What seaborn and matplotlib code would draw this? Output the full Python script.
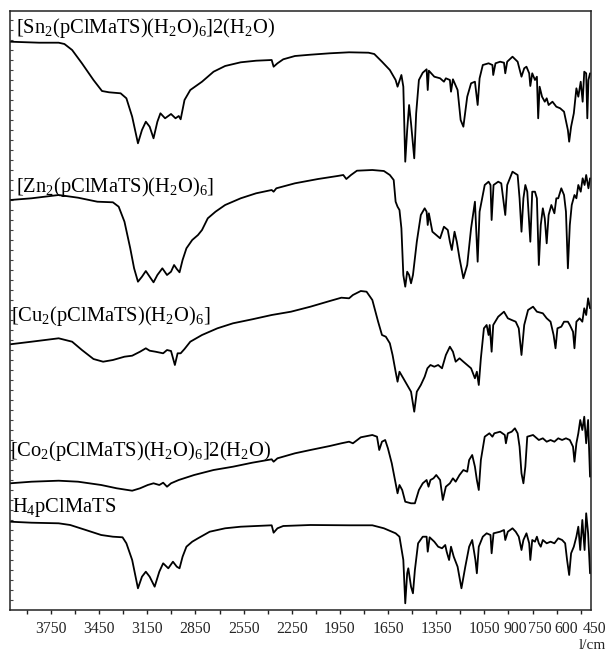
import numpy as np
import pandas as pd
import matplotlib
matplotlib.use("Agg")
import matplotlib.pyplot as plt
import matplotlib.transforms as mtransforms
import seaborn as sns

# ---------------- data (wavenumber, offset transmittance) ----------------
sn_wn = [4004, 3823, 3702, 3666, 3618, 3557, 3485, 3432, 3388, 3316, 3280, 3244, 3208, 3183, 3159, 3135,
         3111, 3087, 3068, 3039, 3002, 2974, 2954, 2942, 2918, 2882, 2809, 2737, 2665, 2568, 2472, 2375,
         2363, 2339, 2303, 2230, 2134, 2013, 1893, 1772, 1736, 1688, 1639, 1603, 1591, 1567, 1555, 1543,
         1531, 1519, 1507, 1487, 1475, 1458, 1434, 1410, 1403, 1396, 1362, 1326, 1302, 1290, 1265, 1258,
         1246, 1217, 1198, 1181, 1157, 1133, 1109, 1092, 1080, 1060, 1024, 1000, 995, 981, 952, 928, 920,
         908, 875, 843, 819, 802, 788, 771, 764, 752, 735, 723, 715, 706, 691, 674, 662, 650, 626, 602,
         578, 554, 530, 522, 510, 493, 477, 465, 450, 438, 428, 416, 409, 402, 392]
sn_t = [568.3, 567.3, 567.3, 566, 560, 546.7, 530, 519, 517.7, 516.7, 511.7, 493.3, 466.7, 480, 488.3, 483.3,
        471.7, 488.3, 496.7, 491.7, 496, 491.7, 494, 490.7, 510, 520, 528.3, 538.3, 544, 547.7, 549.3, 550,
        543.3, 546.7, 550.7, 554, 555.3, 556.7, 557.7, 557.3, 556, 548.3, 540, 530, 523.3, 535, 523.3, 448.3,
        480, 505, 486.7, 451.7, 496.7, 530, 537.3, 540.7, 520, 539.3, 533.3, 531.7, 528.3, 531.7, 530, 518.3,
        530.7, 520, 490, 483.3, 513.3, 526.7, 528.3, 505, 531.7, 545, 546.7, 545, 535, 546.7, 548.3, 547.3, 536.7,
        548.3, 553.3, 548.3, 533.3, 541.7, 543.3, 536.7, 524, 536.7, 530, 533.3, 491.7, 523.3, 513.3, 508.3, 511.7, 505, 508.3, 503.3,
        501.7, 498.3, 480, 468.3, 483.3, 496.7, 521.7, 513.3, 528.3, 508.3, 538.3, 536.7, 491.7, 530, 536.7]

zn_wn = [4004, 3871, 3702, 3581, 3461, 3364, 3328, 3292, 3256, 3232, 3208, 3183, 3159, 3135, 3111, 3087,
         3056, 3027, 3002, 2983, 2966, 2949, 2930, 2906, 2870, 2834, 2809, 2773, 2725, 2665, 2568, 2472,
         2375, 2363, 2346, 2230, 2086, 1965, 1929, 1910, 1881, 1844, 1748, 1676, 1639, 1615, 1603, 1591,
         1579, 1567, 1555, 1543, 1531, 1519, 1507, 1495, 1471, 1446, 1422, 1410, 1403, 1396, 1374, 1350,
         1326, 1302, 1278, 1265, 1253, 1236, 1222, 1205, 1181, 1157, 1133, 1109, 1092, 1080, 1048, 1024,
         1012, 1005, 993, 964, 945, 928, 920, 908, 875, 843, 831, 819, 807, 795, 783, 764, 752, 735, 723,
         711, 699, 686, 674, 662, 650, 633, 614, 602, 590, 571, 554, 542, 530, 518, 506, 489, 477, 465,
         450, 438, 426, 416, 402, 392]
zn_t = [410, 411.7, 415, 412.3, 408.3, 407.7, 403.3, 388.3, 361.7, 341.7, 328.3, 333.3, 339, 333.3, 327.7, 335,
        341.7, 335, 338.3, 345, 341, 337.7, 350, 361.7, 370, 375, 380, 391.7, 398.3, 405, 411.7, 416.7,
        420, 418.3, 421.7, 426.7, 431, 434, 435, 431, 435, 439.3, 440, 439, 435, 430, 408.3, 403.3,
        400, 381.7, 335, 323.3, 338.3, 335, 326.7, 335, 368.3, 395, 401.7, 398.3, 385, 396.7, 378.3, 375,
        371.7, 383.3, 380, 368.3, 360, 378.3, 368.3, 351.7, 331.7, 345, 381.7, 408.3, 348.3, 398.3, 425, 428.3,
        425, 390, 425, 428.3, 426.7, 405, 395, 425, 438.3, 435, 411.7, 378.3, 411.7, 425, 418.3, 368.3, 418.3, 418.3, 411.7,
        345, 385, 401.7, 391.7, 366.7, 395, 405, 396.7, 411.7, 411.7, 421.7, 415, 398.3, 341.7, 385, 405, 415, 411.7, 425,
        418.3, 431.7, 425, 435, 421.7, 431.7]

cu_wn = [4004, 3871, 3702, 3618, 3557, 3485, 3425, 3364, 3292, 3244, 3195, 3159, 3135, 3099, 3051, 3027,
         3002, 2978, 2961, 2942, 2918, 2882, 2809, 2713, 2616, 2496, 2375, 2255, 2134, 2013, 1941, 1893,
         1869, 1820, 1784, 1748, 1712, 1688, 1664, 1639, 1622, 1603, 1591, 1579, 1555, 1531, 1507, 1487,
         1471, 1446, 1422, 1405, 1386, 1362, 1338, 1314, 1290, 1265, 1246, 1229, 1205, 1181, 1157, 1133,
         1109, 1097, 1085, 1072, 1053, 1036, 1024, 1017, 1005, 995, 964, 928, 904, 880, 855, 836, 819, 802,
         778, 747, 723, 686, 662, 638, 619, 607, 595, 571, 554, 530, 518, 498, 489, 477, 457, 440, 428,
         416, 404, 392]
cu_t = [265.7, 268.3, 271.7, 268.3, 260, 251, 248.3, 250, 253.3, 254.3, 258.3, 261.7, 259.3, 258.3, 256.7, 260,
        259, 245, 256.7, 256.7, 261, 268.3, 275, 281.7, 286.7, 290.7, 295, 298.3, 303.3, 309, 312.3, 311.7,
        315, 319, 318.3, 310, 288.3, 275, 273.3, 266.7, 255, 238.3, 228.3, 238.3, 231.7, 225, 218.3, 198.3,
        218.3, 225, 233.3, 241.7, 245, 243.3, 245, 241.7, 255, 263.3, 258.3, 248.3, 251.7, 248.3, 245, 241.7,
        231.7, 238.3, 225, 251.7, 281.7, 285, 275, 285, 258.3, 285, 293.3, 298.3, 291.7, 290, 288.3, 281.7, 255, 285,
        300, 303.3, 298.3, 296.7, 291.7, 288.3, 275, 261.7, 281.7, 283.3, 288.3, 288.3, 285, 278.3, 261.7, 288.3, 291.7, 288.3, 301.7,
        295, 311.7, 301.7]

co_wn = [4004, 3871, 3702, 3581, 3437, 3340, 3244, 3195, 3147, 3111, 3075, 3051, 3027, 3002, 2954, 2858,
         2737, 2616, 2496, 2375, 2363, 2339, 2230, 2134, 2013, 1941, 1893, 1869, 1820, 1748, 1719, 1705,
         1688, 1668, 1651, 1627, 1603, 1591, 1579, 1562, 1543, 1507, 1483, 1458, 1434, 1410, 1398, 1386,
         1367, 1350, 1326, 1309, 1290, 1265, 1246, 1229, 1205, 1181, 1157, 1145, 1126, 1109, 1097, 1085,
         1072, 1048, 1019, 1000, 988, 952, 923, 916, 904, 880, 860, 843, 831, 819, 807, 795, 783, 747, 711,
         686, 662, 638, 614, 590, 566, 542, 518, 498, 489, 477, 465, 453, 440, 428, 416, 404, 392]
co_t = [126.7, 128.3, 129.3, 128.3, 125, 121.7, 119.3, 121.7, 125, 126.7, 125, 127.3, 123.3, 126.7, 130, 135,
        140, 143.3, 147.3, 150.7, 148.3, 151.7, 156.7, 160, 164, 166.7, 168.3, 166.7, 172.7, 175, 173.3, 160,
        168.3, 170, 161.7, 146.7, 126.7, 116.7, 125, 120, 108.3, 106.7, 106.7, 120, 126.7, 130, 123.3, 130,
        131.7, 135, 130, 110, 123.3, 126.7, 131.7, 128.3, 135, 140, 138.3, 150, 155, 143.3, 130, 120,
        150, 173.3, 176.7, 173.3, 176.7, 178.3, 175, 166.7, 176.7, 178.3, 181.7, 176.7, 163.3, 136.7, 126.7, 143.3, 173.3, 175, 170,
        171.7, 168.3, 170, 168.3, 171.7, 170, 171.7, 170, 163.3, 148.3, 166.7, 176.7, 190, 180, 193.3, 166.7, 190, 133.3]

h4_wn = [4004, 3871, 3702, 3630, 3533, 3437, 3364, 3304, 3280, 3244, 3208, 3183, 3159, 3135, 3104, 3075,
         3051, 3019, 2990, 2966, 2949, 2930, 2906, 2870, 2834, 2761, 2665, 2568, 2472, 2375, 2363, 2339,
         2303, 2134, 1893, 1748, 1676, 1603, 1579, 1555, 1543, 1531, 1524, 1507, 1495, 1483, 1463, 1434,
         1410, 1403, 1391, 1362, 1338, 1314, 1294, 1285, 1270, 1258, 1241, 1217, 1193, 1169, 1145, 1126,
         1106, 1097, 1085, 1060, 1036, 1012, 1005, 993, 952, 928, 920, 904, 875, 855, 836, 819, 807, 788,
         771, 764, 752, 735, 723, 711, 699, 686, 662, 638, 614, 590, 566, 547, 535, 522, 510, 493, 477,
         465, 453, 440, 426, 416, 404, 392]
h4_t = [88.3, 87.3, 86.7, 85, 80, 75, 73.3, 72.7, 66.7, 50, 21.7, 33.3, 38.3, 33.3, 23.3, 38.3,
        46.7, 41.7, 48.3, 43.3, 41.7, 53.3, 63.3, 68.3, 71.7, 78.3, 81.7, 83.3, 84, 84.7, 77.3, 81.7,
        84, 85, 84.7, 84.7, 81.7, 76.7, 73.3, 50, 6.7, 36.7, 41.7, 23.3, 16.7, 40, 66.7, 73.3,
        73.3, 58.3, 72.7, 68.3, 63.3, 61.7, 65, 58.3, 50, 63.3, 53.3, 43.3, 21.7, 43.3, 63.3, 70,
        50, 36.7, 63.3, 73.3, 76.7, 75, 56.7, 76.7, 78.3, 80, 70, 78.3, 81.7, 78.3, 73.3, 60, 70, 76.7,
        66.7, 50, 70, 68.3, 73.3, 66.7, 63.3, 70, 66.7, 68.3, 66.7, 71.7, 70, 66.7, 50, 35, 56.7, 63.3, 73.3,
        83.3, 60, 90, 60, 96.7, 76.7, 36.7]

spectra = [
    ("[Sn$_{2}$(pClMaTS)(H$_{2}$O)$_{6}$]2(H$_{2}$O)", sn_wn, sn_t),
    ("[Zn$_{2}$(pClMaTS)(H$_{2}$O)$_{6}$]", zn_wn, zn_t),
    ("[Cu$_{2}$(pClMaTS)(H$_{2}$O)$_{6}$]", cu_wn, cu_t),
    ("[Co$_{2}$(pClMaTS)(H$_{2}$O)$_{6}$]2(H$_{2}$O)", co_wn, co_t),
    ("H$_{4}$pClMaTS", h4_wn, h4_t),
]

tick_values = [3900, 3750, 3600, 3450, 3300, 3150, 3000, 2850, 2700, 2550, 2400, 2250, 2100, 1950,
               1800, 1650, 1500, 1350, 1200, 1050, 900, 750, 600, 450]
tick_labels = ["", "3750", "", "3450", "", "3150", "", "2850", "", "2550", "", "2250", "", "1950",
               "", "1650", "", "1350", "", "1050", "900", "750", "600", "450"]

# ---------------- style ----------------
sns.set_style("ticks")
plt.rcParams["font.family"] = ["Liberation Serif", "DejaVu Serif"]
plt.rcParams["mathtext.default"] = "regular"

fig = plt.figure(figsize=(6.08, 6.54), dpi=100)
ax = fig.add_axes([10 / 608, 44 / 654, 581 / 608, 599 / 654])

for name, wn, t in spectra:
    df = pd.DataFrame({"wn": wn, "t": t})
    sns.lineplot(data=df, x="wn", y="t", ax=ax, color="black", lw=1.3,
                 estimator=None, sort=False)

ax.set_xlim(4005, 386)
ax.set_ylim(0, 599)
ax.set_xlabel("")
ax.set_ylabel("")

ax.set_xticks(tick_values)
ax.set_xticklabels(tick_labels)
ax.tick_params(axis="x", direction="out", length=3, width=1, labelsize=11.3, pad=5, color="#222222")
ax.set_yticks(np.arange(10, 599, 10))
ax.set_yticklabels([])
ax.tick_params(axis="y", direction="in", length=2, width=0.8, color="#444444")

# the last tick labels sit slightly right of their ticks in the reference
label_shift_px = {"900": 6.5, "750": 7.5, "600": 10, "450": 14}
for lab in ax.get_xticklabels():
    txt = lab.get_text()
    if txt in label_shift_px:
        off = mtransforms.ScaledTranslation(label_shift_px[txt] / 100, 0, fig.dpi_scale_trans)
        lab.set_transform(lab.get_transform() + off)

for s in ax.spines.values():
    s.set_visible(True)
    s.set_linewidth(1.1)
    s.set_color("#222222")

label_pos = [(0.0103, 0.963), (0.0103, 0.698), (0.0017, 0.482), (0.0, 0.257), (0.0034, 0.164)]
for (name, _, _), (xf, yf) in zip(spectra, label_pos):
    ax.text(xf, yf, name, transform=ax.transAxes, fontsize=14.8, ha="left", va="baseline",
            color="black")

fig.text(606 / 608, 5 / 654, "l/cm", fontsize=11, ha="right", va="baseline")

fig.savefig("out.png", dpi=100)
